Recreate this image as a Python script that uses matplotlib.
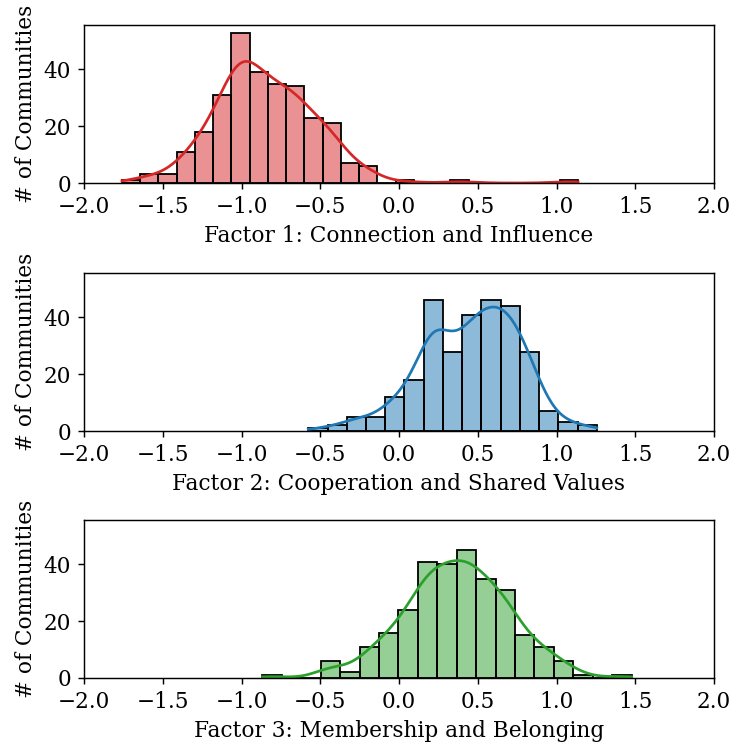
import numpy as np
import matplotlib
matplotlib.use("Agg")
import matplotlib.pyplot as plt

plt.rcParams['font.family'] = ['DejaVu Serif']
plt.rcParams['font.size'] = 12

# Histogram data (bin range and counts per factor)
f1_range = (-1.759, 1.137)
f1_counts = [1, 3, 3, 11, 18, 31, 53, 39, 35, 34, 23, 21, 7, 6, 0, 1, 0, 0, 1, 0, 0, 0, 0, 0, 1]

f2_range = (-0.576, 1.256)
f2_counts = [1, 2, 5, 5, 12, 18, 46, 28, 41, 46, 44, 28, 7, 3, 2]

f3_range = (-0.867, 1.477)
f3_counts = [1, 0, 0, 6, 2, 11, 16, 24, 41, 40, 45, 35, 31, 15, 11, 6, 1, 0, 1]

labels = ["Factor 1: Connection and Influence",
          "Factor 2: Cooperation and Shared Values",
          "Factor 3: Membership and Belonging"]
colors = ["tab:red", "tab:blue", "tab:green"]
xticks = [-2.0, -1.5, -1.0, -0.5, 0.0, 0.5, 1.0, 1.5, 2.0]
yticks = [0, 20, 40]

DPI = 130
W, H = 733, 747
fig = plt.figure(figsize=(W / DPI, H / DPI), dpi=DPI)
left, right = 84, 714
panels = [(25, 183), (273, 431), (520, 678)]

axes = []
for (top, bot) in panels:
    ax = fig.add_axes([left / W, (H - bot) / H, (right - left) / W, (bot - top) / H])
    axes.append(ax)

ymax = max(max(f1_counts), max(f2_counts), max(f3_counts)) * 1.05

for ax, rng, counts, lab, col in zip(axes, [f1_range, f2_range, f3_range],
                                     [f1_counts, f2_counts, f3_counts], labels, colors):
    counts = np.array(counts)
    edges = np.linspace(rng[0], rng[1], len(counts) + 1)
    width = edges[1] - edges[0]
    centers = (edges[:-1] + edges[1:]) / 2
    ax.bar(edges[:-1], counts, width=width, align='edge', color=col, alpha=0.5,
           edgecolor='none', linewidth=0)
    ax.bar(edges[:-1], counts, width=width, align='edge', facecolor='none',
           edgecolor='black', linewidth=1.0)
    # Gaussian KDE of reconstructed samples, scaled to counts
    data = np.repeat(centers, counts)
    n = len(data)
    bw = data.std(ddof=1) * n ** (-1 / 5)
    grid = np.linspace(rng[0], rng[1], 300)
    dens = np.exp(-0.5 * ((grid[:, None] - data[None, :]) / bw) ** 2).sum(axis=1) / (n * bw * np.sqrt(2 * np.pi))
    ax.plot(grid, dens * n * width, color=col, linewidth=1.5)
    ax.set_xlim(-2, 2)
    ax.set_ylim(0, ymax)
    ax.set_xticks(xticks)
    ax.set_yticks(yticks)
    ax.set_xlabel(lab)
    ax.set_ylabel("# of Communities")

fig.savefig("out.png", dpi=DPI)
